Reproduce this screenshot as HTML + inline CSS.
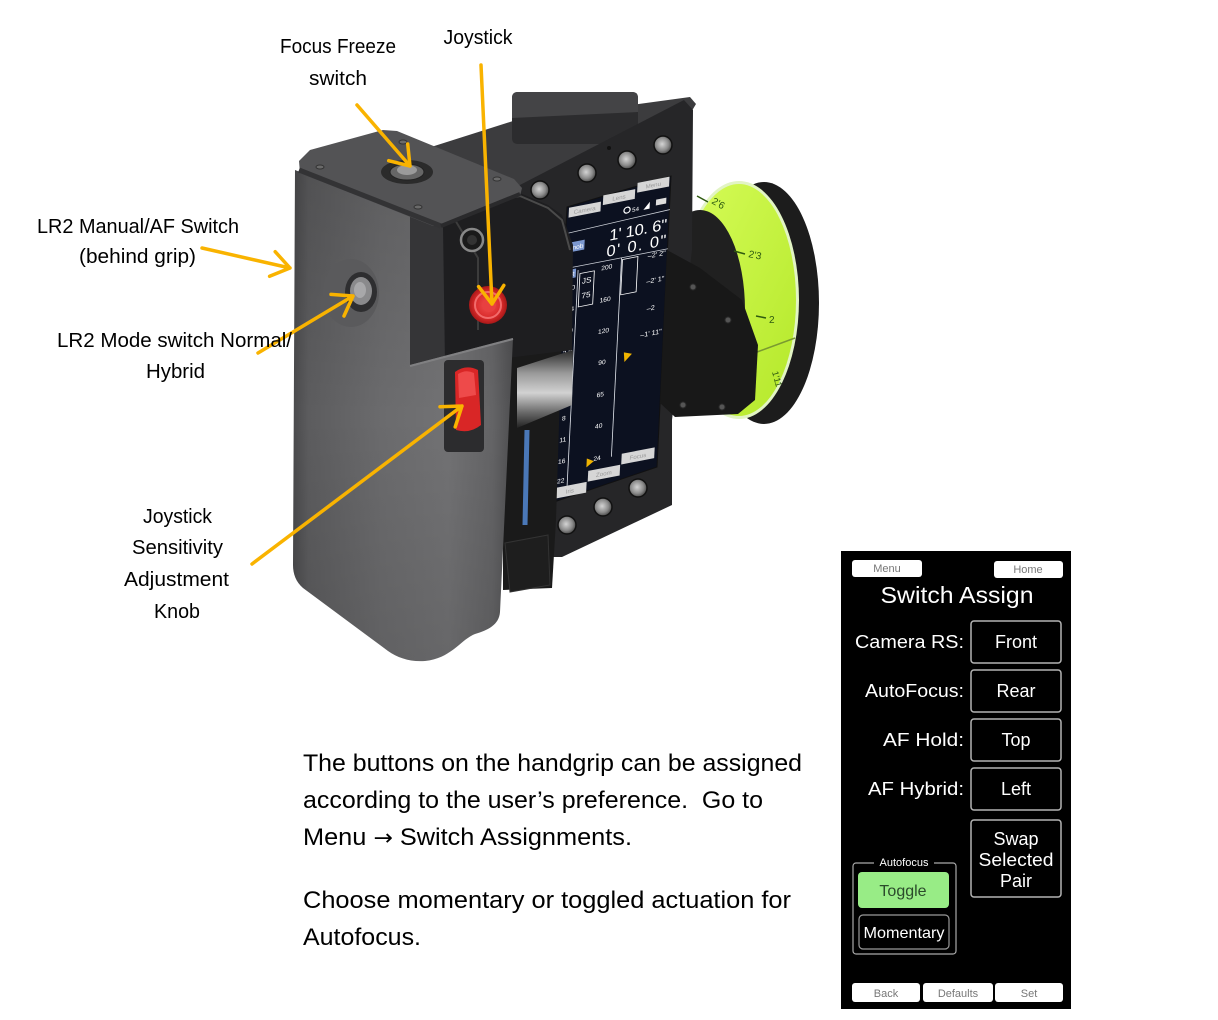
<!DOCTYPE html>
<html><head><meta charset="utf-8"><style>
html,body{margin:0;padding:0;background:#fff;}
svg{display:block;}
text{font-family:"Liberation Sans",Arial,sans-serif;}
</style></head><body>
<svg width="1218" height="1020" viewBox="0 0 1218 1020" xmlns="http://www.w3.org/2000/svg">
<defs>
 <linearGradient id="grip" gradientUnits="userSpaceOnUse" x1="293" y1="0" x2="515" y2="0">
  <stop offset="0" stop-color="#4a4a4c"/>
  <stop offset="0.07" stop-color="#5c5c5e"/>
  <stop offset="0.4" stop-color="#6b6b6d"/>
  <stop offset="0.7" stop-color="#727274"/>
  <stop offset="0.9" stop-color="#646466"/>
  <stop offset="1" stop-color="#4c4c4e"/>
 </linearGradient>
 <linearGradient id="gripV" gradientUnits="userSpaceOnUse" x1="0" y1="170" x2="0" y2="662">
  <stop offset="0" stop-color="#000" stop-opacity="0.12"/>
  <stop offset="0.5" stop-color="#000" stop-opacity="0"/>
  <stop offset="1" stop-color="#000" stop-opacity="0.1"/>
 </linearGradient>
 <radialGradient id="btn" cx="0.45" cy="0.45" r="0.6">
  <stop offset="0" stop-color="#d4d4d4"/><stop offset="0.6" stop-color="#8a8a8a"/><stop offset="1" stop-color="#3a3a3a"/>
 </radialGradient>
 <linearGradient id="green" x1="0" y1="0" x2="1" y2="1">
  <stop offset="0" stop-color="#d6fc58"/><stop offset="1" stop-color="#b4e82a"/>
 </linearGradient>
 <linearGradient id="chrome" x1="0" y1="0" x2="0" y2="1">
  <stop offset="0" stop-color="#2a2a2a"/><stop offset="0.3" stop-color="#9a9a9a"/><stop offset="0.55" stop-color="#d2d2d2"/><stop offset="0.8" stop-color="#6a6a6a"/><stop offset="1" stop-color="#222"/>
 </linearGradient>
 <radialGradient id="red" cx="0.5" cy="0.5" r="0.5">
  <stop offset="0" stop-color="#f05050"/><stop offset="0.7" stop-color="#d92a2a"/><stop offset="1" stop-color="#a81818"/>
 </radialGradient>
</defs>

<rect width="1218" height="1020" fill="#fff"/>

<!-- Lens ring -->
<ellipse cx="764" cy="303" rx="55" ry="121" fill="#1c1c1c"/>
<ellipse cx="739" cy="300" rx="60" ry="119" fill="#e2f4c4"/>
<ellipse cx="739" cy="300" rx="57" ry="116" fill="url(#green)"/>
<ellipse cx="700" cy="310" rx="45" ry="100" fill="#202020"/>
<g stroke="#2f5a10" stroke-width="1.5">
 <line x1="697" y1="196" x2="708" y2="202"/>
 <line x1="734" y1="251" x2="745" y2="254"/>
 <line x1="756" y1="316" x2="766" y2="318"/>
 <line x1="757" y1="352" x2="795" y2="338" stroke="#7a9a30"/>
</g>
<g fill="#2d5a10" font-size="10">
 <text x="711" y="203" transform="rotate(30 711 203)">2'6</text>
 <text x="748" y="257" transform="rotate(12 748 257)">2'3</text>
 <text x="769" y="323">2</text>
 <text x="772" y="372" font-size="9" transform="rotate(75 772 372)">1'11</text>
</g>

<!-- Screen unit body -->
<polygon points="428,148 513,121 690,97 696,104 690,114 520,194 445,204" fill="#3c3c3e"/>
<path d="M518,92 H632 Q638,92 638,98 V138 Q638,144 632,144 H518 Q512,144 512,138 V98 Q512,92 518,92Z" fill="#2c2c2e"/>
<path d="M518,92 H632 Q638,92 638,98 V112 L512,118 V98 Q512,92 518,92Z" fill="#444446"/>
<polygon points="518,186 684,100 693,110 692,250 672,420 672,505 562,557 518,557" fill="#262628"/>
<g fill="url(#btn)" stroke="#111" stroke-width="1.5">
 <circle cx="540" cy="190" r="9"/>
 <circle cx="587" cy="173" r="9"/>
 <circle cx="627" cy="160" r="9"/>
 <circle cx="663" cy="145" r="9"/>
 <circle cx="567" cy="525" r="9"/>
 <circle cx="603" cy="507" r="9"/>
 <circle cx="638" cy="488" r="9"/>
</g>
<circle cx="609" cy="148" r="2" fill="#111"/>

<!-- LCD -->
<polygon points="567,207 671,176 657,467 551,503" fill="#0c1120" stroke="#111" stroke-width="1"/>
<g transform="matrix(1.03,-0.2,-0.05,0.98,568,208)">
 <rect x="1" y="0" width="31" height="10" fill="#d6d6d6"/>
 <rect x="34" y="-6" width="31" height="10" fill="#d6d6d6"/>
 <rect x="67" y="-12" width="31" height="10" fill="#d6d6d6"/>
 <g fill="#9a9a9a" font-size="6" text-anchor="middle">
  <text x="16.5" y="7.5">Camera</text><text x="49.5" y="1.5">Lens</text><text x="82.5" y="-4.5">Menu</text>
 </g>
 <circle cx="58" cy="14" r="3" stroke="#fff" fill="none" stroke-width="1.2"/>
 <text x="63" y="17" font-size="6" fill="#fff">54</text>
 <path d="M74,17 L80,10 L80,17Z" fill="#fff"/>
 <rect x="86" y="9" width="10" height="6" fill="#ddd"/>
 <line x1="0" y1="26" x2="100" y2="22" stroke="#cfd3da" stroke-width="0.8"/>
 <text x="98" y="42" text-anchor="end" font-size="16" fill="#fff" textLength="56">1' 10. 6"</text>
 <rect x="1" y="36" width="17" height="10" fill="#7c98d0"/>
 <text x="9.5" y="44" font-size="6.5" fill="#fff" text-anchor="middle">Knob</text>
 <text x="98" y="58" text-anchor="end" font-size="16" fill="#fff" textLength="58">0'  0. 0"</text>
 <line x1="0" y1="62" x2="100" y2="62" stroke="#cfd3da" stroke-width="0.8"/>
 <rect x="1" y="64" width="10" height="9" fill="#7c98d0"/>
 <text x="6" y="71" font-size="6" fill="#fff" text-anchor="middle">LR</text>
 <line x1="13" y1="66" x2="13" y2="286" stroke="#dfe3ea" stroke-width="0.8"/>
 <line x1="55" y1="62" x2="55" y2="265" stroke="#dfe3ea" stroke-width="0.8"/>
 <rect x="15" y="70" width="14" height="34" stroke="#fff" fill="none" stroke-width="0.8"/>
 <g fill="#fff" font-size="8" text-anchor="middle"><text x="22" y="81">JS</text><text x="22" y="96">75</text></g>
 <g fill="#fff" font-size="6.5" text-anchor="middle">
  <text x="6.5" y="85">1.0</text><text x="6.5" y="107">1.4</text><text x="6.5" y="129">2.0</text><text x="6.5" y="151">2.8</text><text x="6.5" y="173">4</text><text x="6.5" y="196">5.6</text><text x="6.5" y="218">8</text><text x="6.5" y="240">11</text><text x="6.5" y="262">16</text><text x="6.5" y="282">22</text>
  <text x="41" y="71">200</text><text x="41" y="104">160</text><text x="41" y="136">120</text><text x="41" y="168">90</text><text x="41" y="201">65</text><text x="41" y="233">40</text><text x="41" y="266">24</text>
 </g>
 <rect x="56" y="64" width="15" height="36" stroke="#fff" fill="none" stroke-width="0.8"/>
 <g fill="#fff" font-size="7" text-anchor="end">
  <text x="98" y="68">–2' 2"</text><text x="98" y="94">–2' 1"</text><text x="90" y="122">–2</text><text x="98" y="148">–1' 11"</text>
 </g>
 <path d="M62,160 L70,163 L63,170Z" fill="#f0b400"/>
 <path d="M31,262 L38,266 L31,271Z" fill="#f0b400"/>
 <rect x="0" y="286" width="32" height="11" fill="#d6d6d6"/>
 <rect x="33" y="275" width="31" height="11" fill="#d6d6d6"/>
 <rect x="65" y="264" width="32" height="11" fill="#d6d6d6"/>
 <g fill="#9a9a9a" font-size="6" text-anchor="middle">
  <text x="16" y="294">Iris</text><text x="48.5" y="283">Zoom</text><text x="81" y="272">Focus</text>
 </g>
</g>

<!-- Motor plate -->
<polygon points="667,250 700,268 742,300 758,345 755,400 738,414 675,417 660,403" fill="#181818"/>
<g fill="#555" stroke="#2a2a2a">
 <circle cx="693" cy="287" r="3"/><circle cx="728" cy="320" r="3"/><circle cx="683" cy="405" r="3"/><circle cx="722" cy="407" r="3"/>
</g>

<!-- Dark column between grip and screen -->
<polygon points="503,335 562,330 556,520 552,588 503,590" fill="#1a1a1a"/>
<line x1="538" y1="280" x2="538" y2="350" stroke="#3f6db0" stroke-width="4"/>
<line x1="527" y1="430" x2="525" y2="525" stroke="#4a78b8" stroke-width="5"/>
<polygon points="517,368 573,350 572,405 517,428" fill="url(#chrome)"/>
<polygon points="505,543 548,535 550,585 510,592" fill="#1e1e1e" stroke="#333"/>

<!-- Housing -->
<polygon points="410,215 445,226 455,205 520,193 548,205 562,215 573,245 572,350 410,370" fill="#1e1e20"/>
<path d="M455,208 L520,196 L548,208 L562,220 L570,250" stroke="#4a4a4a" stroke-width="2" fill="none"/>
<path d="M452,215 L478,258 L478,330" stroke="#3c3c3c" stroke-width="2" fill="none"/>
<polygon points="410,215 443,227 445,365 410,365" fill="#353537"/>

<!-- Grip -->
<path d="M295,170 L410,215 L410,365 L513,338 L500,612 C499,625 488,630 475,634 C460,640 452,658 425,661 C410,662 398,658 388,651 L303,588 C296,582 293,574 293,565 Z" fill="url(#grip)"/>
<path d="M295,170 L410,215 L410,365 L513,338 L500,612 C499,625 488,630 475,634 C460,640 452,658 425,661 C410,662 398,658 388,651 L303,588 C296,582 293,574 293,565 Z" fill="url(#gripV)"/>
<line x1="410" y1="366" x2="513" y2="339" stroke="#808082" stroke-width="2"/>

<!-- Red switch -->
<rect x="444" y="360" width="40" height="92" rx="4" fill="#2c2c2e"/>
<path d="M455,372 Q466,364 478,370 L481,425 Q470,434 456,430 Z" fill="#d92626"/>
<path d="M458,374 Q466,369 474,373 L476,395 L459,398 Z" fill="#ee4a4a"/>

<!-- Top plate -->
<polygon points="299,161 310,150 383,130 397,131 514,179 522,188 520,196 445,226 433,226 300,173" fill="#535355"/>
<line x1="299" y1="170" x2="441" y2="226" stroke="#333335" stroke-width="5"/>
<line x1="441" y1="226" x2="520" y2="194" stroke="#2a2a2c" stroke-width="4"/>
<g fill="#6a6a6a" stroke="#333">
 <ellipse cx="320" cy="167" rx="4" ry="2"/><ellipse cx="403" cy="142" rx="4" ry="2"/><ellipse cx="497" cy="179" rx="4" ry="2"/><ellipse cx="418" cy="207" rx="4" ry="2"/>
</g>
<ellipse cx="407" cy="172" rx="26" ry="12" fill="#2b2b2b"/>
<ellipse cx="407" cy="172" rx="17" ry="8" fill="#666" stroke="#222"/>
<ellipse cx="407" cy="170" rx="10" ry="5" fill="#9a9a9a"/>

<!-- LR2 mode button -->
<ellipse cx="351" cy="293" rx="28" ry="34" fill="#5a5a5c"/>
<ellipse cx="361" cy="292" rx="16" ry="20" fill="#2e2e30"/>
<ellipse cx="361" cy="291" rx="11" ry="14" fill="#8a8a8c"/>
<ellipse cx="360" cy="290" rx="6" ry="8" fill="#a8a8aa"/>

<!-- Joystick -->
<circle cx="472" cy="240" r="11" fill="#1a1a1a" stroke="#888" stroke-width="2.5"/>
<circle cx="472" cy="240" r="5" fill="#333"/>
<circle cx="488" cy="305" r="19" fill="url(#red)"/>
<circle cx="488" cy="305" r="13" fill="none" stroke="#f26b6b" stroke-width="2"/>
<circle cx="489" cy="305" r="7" fill="#e84040"/>

<!-- Arrows -->
<g stroke="#F9B300" stroke-width="3.5" stroke-linecap="round" stroke-linejoin="round" fill="none">
 <path d="M357,105 L410,166 M388.7,160.7 L410,166 L407.7,144"/>
 <path d="M481,65 L492,304 M478.6,286.6 L492,304 L503.8,285.4"/>
 <path d="M202,248 L290,268 M275.2,251.7 L290,268 L269.6,276.3"/>
 <path d="M258,353 L353,296 M331,294.4 L353,296 L344,316"/>
 <path d="M252,564 L462,406 M440,406.7 L462,406 L455.2,426.9"/>
</g>

<!-- Labels -->
<g font-size="20" fill="#000" text-anchor="middle">
 <text x="338" y="53" textLength="116" lengthAdjust="spacingAndGlyphs">Focus Freeze</text>
 <text x="338" y="85" textLength="58" lengthAdjust="spacingAndGlyphs">switch</text>
 <text x="478" y="44" textLength="69" lengthAdjust="spacingAndGlyphs">Joystick</text>
 <text x="138" y="233" textLength="202" lengthAdjust="spacingAndGlyphs">LR2 Manual/AF Switch</text>
 <text x="137.5" y="263" textLength="117" lengthAdjust="spacingAndGlyphs">(behind grip)</text>
 <text x="174.5" y="347" textLength="235" lengthAdjust="spacingAndGlyphs">LR2 Mode switch Normal/</text>
 <text x="175.5" y="378" textLength="59" lengthAdjust="spacingAndGlyphs">Hybrid</text>
 <text x="177.5" y="523" textLength="69" lengthAdjust="spacingAndGlyphs">Joystick</text>
 <text x="177.5" y="554" textLength="91" lengthAdjust="spacingAndGlyphs">Sensitivity</text>
 <text x="176.5" y="586" textLength="105" lengthAdjust="spacingAndGlyphs">Adjustment</text>
 <text x="177" y="618" textLength="46" lengthAdjust="spacingAndGlyphs">Knob</text>
</g>

<!-- Paragraph -->
<g font-size="24" fill="#000">
 <text x="303" y="771" textLength="499" lengthAdjust="spacingAndGlyphs">The buttons on the handgrip can be assigned</text>
 <text x="303" y="808" textLength="460" lengthAdjust="spacingAndGlyphs">according to the user’s preference.&#160; Go to</text>
 <text x="303" y="845" textLength="329" lengthAdjust="spacingAndGlyphs">Menu <tspan font-family="DejaVu Sans" font-size="22">→</tspan> Switch Assignments.</text>
 <text x="303" y="908" textLength="488" lengthAdjust="spacingAndGlyphs">Choose momentary or toggled actuation for</text>
 <text x="303" y="945" textLength="118" lengthAdjust="spacingAndGlyphs">Autofocus.</text>
</g>

<!-- Screen panel -->
<rect x="841" y="551" width="230" height="458" fill="#000"/>
<rect x="852" y="560" width="70" height="17" rx="3" fill="#fff"/>
<rect x="994" y="561" width="69" height="17" rx="3" fill="#fff"/>
<g font-size="11" fill="#777" text-anchor="middle">
 <text x="887" y="572">Menu</text>
 <text x="1028" y="573">Home</text>
</g>
<text x="957" y="603" font-size="23" fill="#fff" text-anchor="middle" textLength="153" lengthAdjust="spacingAndGlyphs">Switch Assign</text>
<g font-size="18" fill="#fff" text-anchor="end">
 <text x="964" y="648" textLength="109" lengthAdjust="spacingAndGlyphs">Camera RS:</text>
 <text x="964" y="697" textLength="99" lengthAdjust="spacingAndGlyphs">AutoFocus:</text>
 <text x="964" y="746" textLength="81" lengthAdjust="spacingAndGlyphs">AF Hold:</text>
 <text x="964" y="795" textLength="96" lengthAdjust="spacingAndGlyphs">AF Hybrid:</text>
</g>
<g fill="#000" stroke="#b4b4b4" stroke-width="1.5">
 <rect x="971" y="621" width="90" height="42" rx="3"/>
 <rect x="971" y="670" width="90" height="42" rx="3"/>
 <rect x="971" y="719" width="90" height="42" rx="3"/>
 <rect x="971" y="768" width="90" height="42" rx="3"/>
 <rect x="971" y="820" width="90" height="77" rx="3"/>
</g>
<g font-size="18" fill="#fff" text-anchor="middle">
 <text x="1016" y="648">Front</text>
 <text x="1016" y="697">Rear</text>
 <text x="1016" y="746">Top</text>
 <text x="1016" y="795">Left</text>
 <text x="1016" y="845">Swap</text>
 <text x="1016" y="866" textLength="75" lengthAdjust="spacingAndGlyphs">Selected</text>
 <text x="1016" y="887">Pair</text>
</g>
<rect x="853" y="863" width="103" height="91" rx="3" fill="none" stroke="#aaa" stroke-width="1.2"/>
<rect x="874" y="857" width="60" height="10" fill="#000"/>
<text x="904" y="866" font-size="11" fill="#fff" text-anchor="middle">Autofocus</text>
<rect x="858" y="872" width="91" height="36" rx="4" fill="#98ec86"/>
<text x="903" y="896" font-size="16" fill="#2b4a2b" text-anchor="middle">Toggle</text>
<rect x="859" y="915" width="90" height="34" rx="4" fill="#000" stroke="#999" stroke-width="1.2"/>
<text x="904" y="938" font-size="16" fill="#fff" text-anchor="middle" textLength="81" lengthAdjust="spacingAndGlyphs">Momentary</text>
<rect x="852" y="983" width="68" height="19" rx="3" fill="#fff"/>
<rect x="923" y="983" width="70" height="19" rx="3" fill="#fff"/>
<rect x="995" y="983" width="68" height="19" rx="3" fill="#fff"/>
<g font-size="11" fill="#777" text-anchor="middle">
 <text x="886" y="997">Back</text>
 <text x="958" y="997">Defaults</text>
 <text x="1029" y="997">Set</text>
</g>
</svg>
</body></html>
